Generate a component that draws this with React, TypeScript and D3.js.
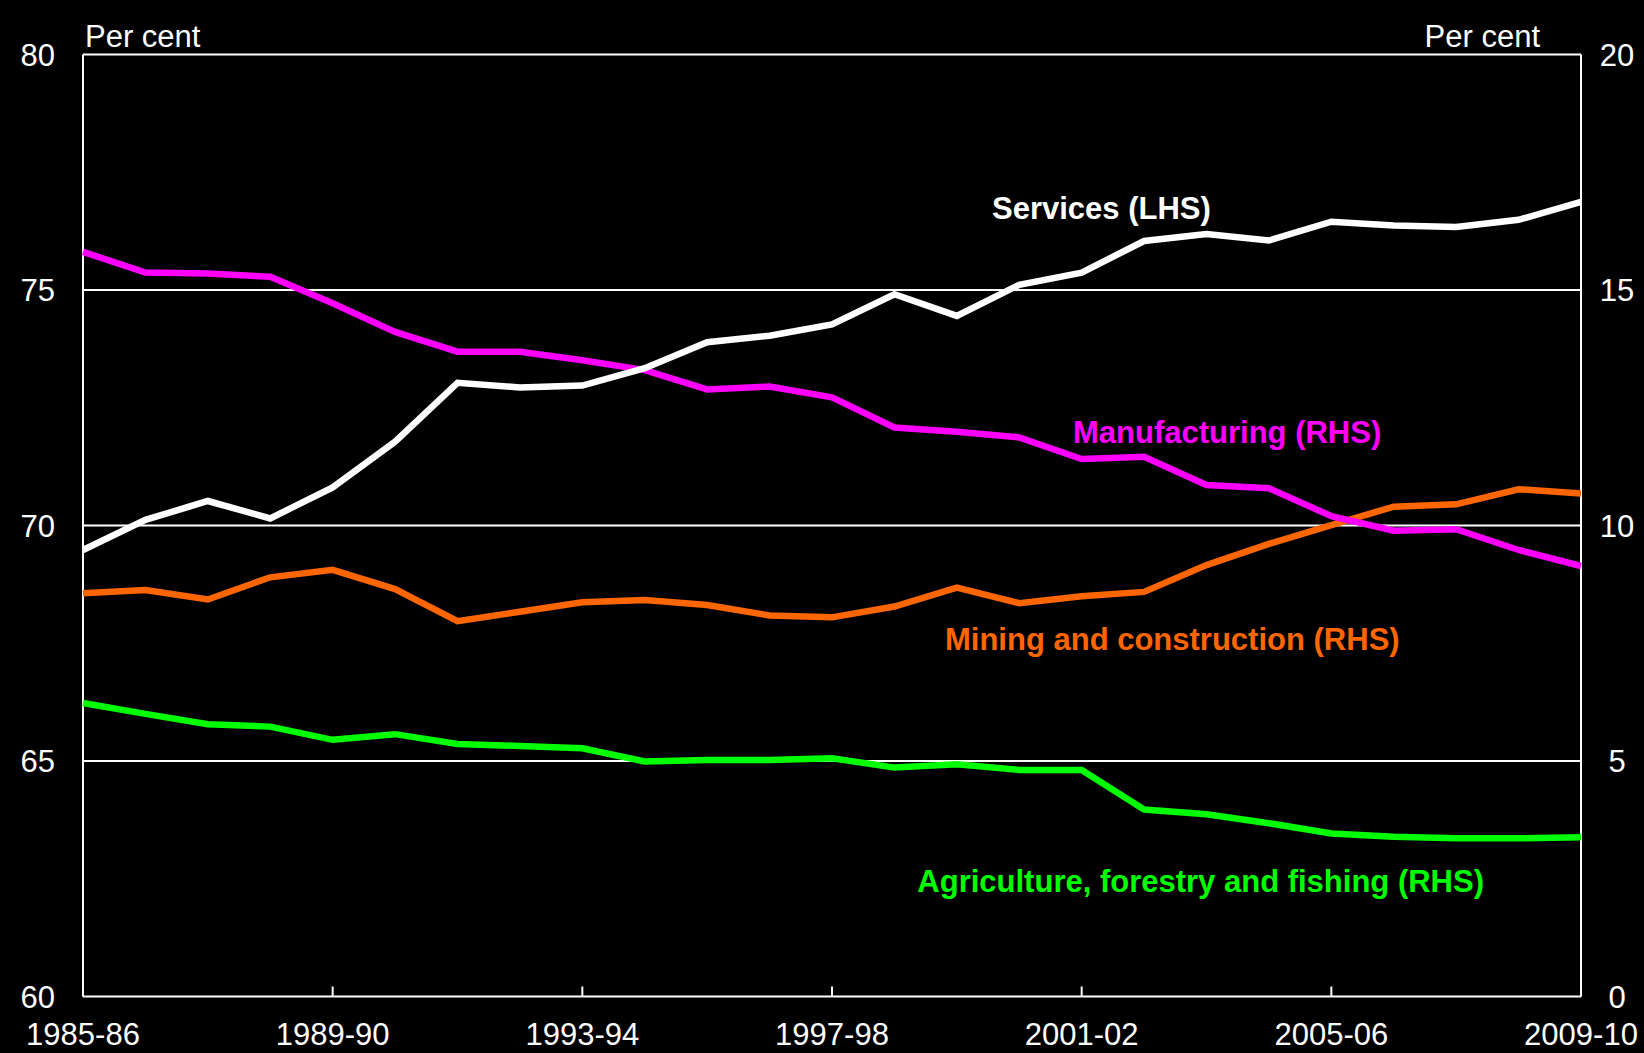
import React from "react";
import * as d3 from "d3";

const years: string[] = [
  "1985-86","1986-87","1987-88","1988-89","1989-90","1990-91","1991-92","1992-93",
  "1993-94","1994-95","1995-96","1996-97","1997-98","1998-99","1999-00","2000-01",
  "2001-02","2002-03","2003-04","2004-05","2005-06","2006-07","2007-08","2008-09","2009-10",
];

const services: number[] = [
  69.48, 70.12, 70.52, 70.15, 70.81, 71.78, 73.03, 72.93, 72.97, 73.34, 73.89, 74.03, 74.27,
  74.91, 74.45, 75.11, 75.37, 76.04, 76.19, 76.05, 76.45, 76.37, 76.34, 76.49, 76.87,
];
const manufacturing: number[] = [
  15.81, 15.37, 15.35, 15.28, 14.72, 14.11, 13.69, 13.69, 13.51, 13.30, 12.89, 12.95, 12.72,
  12.08, 11.99, 11.87, 11.41, 11.46, 10.86, 10.79, 10.20, 9.89, 9.92, 9.48, 9.14,
];
const mining: number[] = [
  8.56, 8.63, 8.43, 8.90, 9.06, 8.65, 7.97, 8.17, 8.37, 8.42, 8.31, 8.09, 8.05,
  8.28, 8.68, 8.35, 8.50, 8.59, 9.16, 9.61, 10.01, 10.40, 10.45, 10.77, 10.68,
];
const agriculture: number[] = [
  6.23, 6.00, 5.78, 5.73, 5.45, 5.57, 5.36, 5.32, 5.27, 4.99, 5.02, 5.02, 5.06,
  4.86, 4.93, 4.81, 4.81, 3.97, 3.87, 3.68, 3.46, 3.39, 3.36, 3.36, 3.38,
];

const leftTicks: number[] = [60, 65, 70, 75, 80];
const rightTicks: number[] = [0, 5, 10, 15, 20];
const xTickLabels: string[] = ["1985-86", "1989-90", "1993-94", "1997-98", "2001-02", "2005-06", "2009-10"];

const W = 1644;
const H = 1053;
const L = 83;
const R = 1581;
const T = 54.5;
const B = 996.5;
const FONT = "'Liberation Sans', Arial, sans-serif";
const FS = 31;

export default function App() {
  const x = d3.scalePoint<string>().domain(years).range([L, R]);
  const yL = d3.scaleLinear().domain([60, 80]).range([B, T]);
  const yR = d3.scaleLinear().domain([0, 20]).range([B, T]);

  const lineL = d3.line<number>().x((_, i) => x(years[i]) as number).y((d) => yL(d));
  const lineR = d3.line<number>().x((_, i) => x(years[i]) as number).y((d) => yR(d));

  const series = [
    { data: agriculture, color: "#00FF00", path: lineR },
    { data: mining, color: "#FF6600", path: lineR },
    { data: manufacturing, color: "#FF00FF", path: lineR },
    { data: services, color: "#FFFFFF", path: lineL },
  ];

  return (
    <svg
      width={W}
      height={H}
      style={{ position: "absolute", left: 0, top: 0, background: "#000" }}
      fontFamily={FONT}
    >
      <rect x={0} y={0} width={W} height={H} fill="#000" />
      {leftTicks.slice(1, -1).map((t) => (
        <line key={"g" + t} x1={L} x2={R} y1={yL(t)} y2={yL(t)} stroke="#fff" strokeWidth={2} />
      ))}
      <line x1={L} x2={R} y1={T} y2={T} stroke="#fff" strokeWidth={2} />
      <line x1={L} x2={R} y1={B} y2={B} stroke="#fff" strokeWidth={2} />
      <line x1={L} x2={L} y1={T} y2={B} stroke="#fff" strokeWidth={2} />
      <line x1={R} x2={R} y1={T} y2={B} stroke="#fff" strokeWidth={2} />
      {xTickLabels.map((lab) => (
        <line key={"t" + lab} x1={x(lab)} x2={x(lab)} y1={B} y2={B - 10} stroke="#fff" strokeWidth={2} />
      ))}
      {series.map((s, k) => (
        <path
          key={k}
          d={s.path(s.data) || ""}
          fill="none"
          stroke={s.color}
          strokeWidth={6.5}
          strokeLinejoin="miter"
        />
      ))}
      {leftTicks.map((t) => (
        <text key={"l" + t} x={55} y={yL(t) + 11} fill="#fff" fontSize={FS} textAnchor="end">
          {t}
        </text>
      ))}
      {rightTicks.map((t) => (
        <text key={"r" + t} x={1617} y={yR(t) + 11} fill="#fff" fontSize={FS} textAnchor="middle">
          {t}
        </text>
      ))}
      {xTickLabels.map((lab) => (
        <text key={"x" + lab} x={x(lab)} y={1045} fill="#fff" fontSize={FS} textAnchor="middle">
          {lab}
        </text>
      ))}
      <text x={85} y={47} fill="#fff" fontSize={FS}>Per cent</text>
      <text x={1540} y={47} fill="#fff" fontSize={FS} textAnchor="end">Per cent</text>
      <text x={992} y={219} fill="#FFFFFF" fontSize={FS} fontWeight="bold">Services (LHS)</text>
      <text x={1073} y={443} fill="#FF00FF" fontSize={FS} fontWeight="bold">Manufacturing (RHS)</text>
      <text x={945} y={650} fill="#FF6600" fontSize={FS} fontWeight="bold">Mining and construction (RHS)</text>
      <text x={1484} y={892} fill="#00FF00" fontSize={FS} fontWeight="bold" textAnchor="end">
        Agriculture, forestry and fishing (RHS)
      </text>
    </svg>
  );
}
